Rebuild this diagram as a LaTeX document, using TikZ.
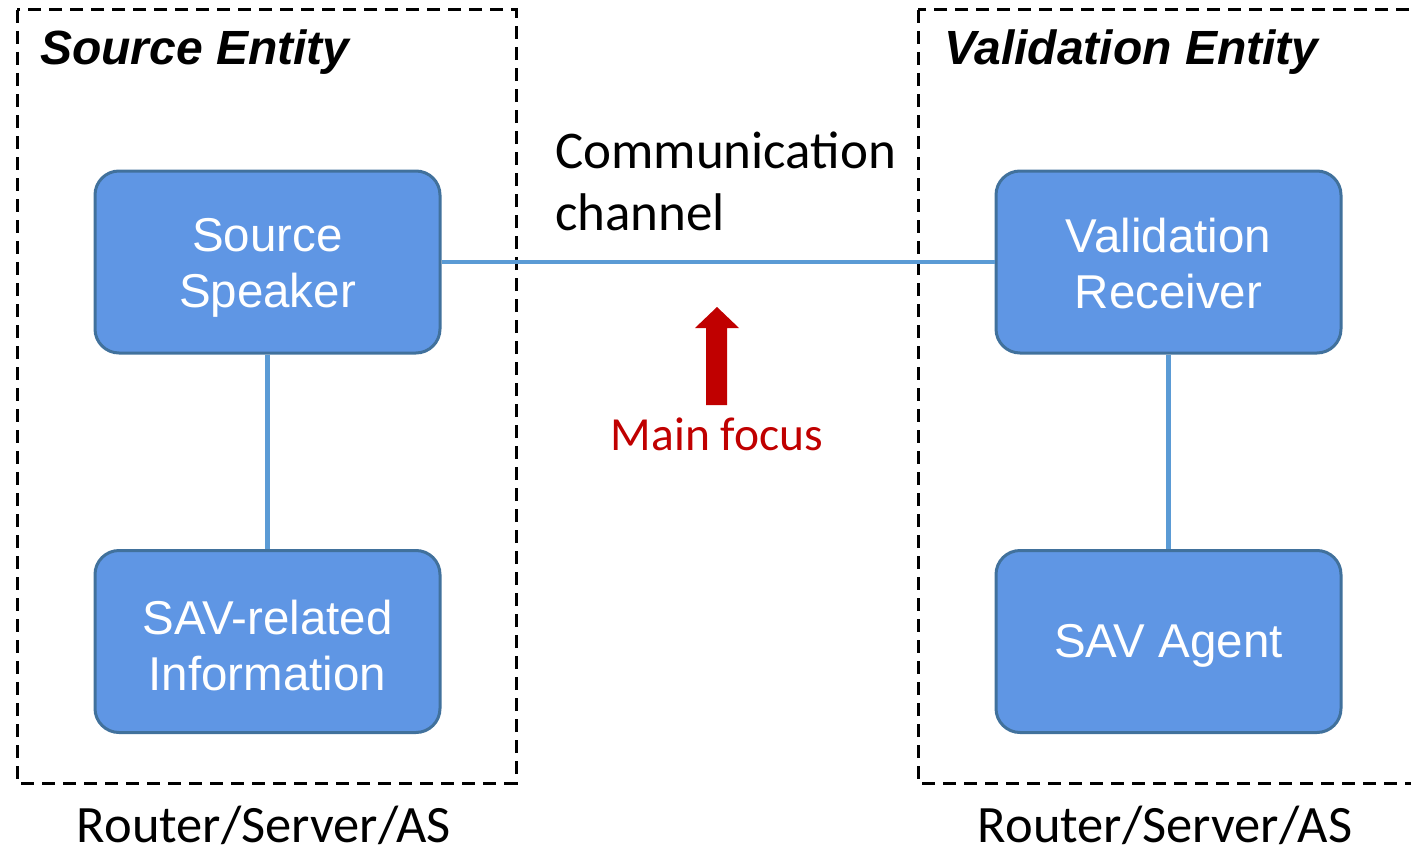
\documentclass[tikz,border=0pt]{standalone}
\usepackage{fontspec}
\setmainfont{Carlito}
\newfontfamily\arialf{Liberation Sans}
\definecolor{boxfill}{HTML}{5F96E4}
\definecolor{boxedge}{HTML}{41719C}
\definecolor{linkc}{HTML}{5B9BD5}
\definecolor{focusred}{HTML}{C00000}
\tikzset{
  entity/.style={draw=black, line width=3pt, dash pattern=on 13pt off 8pt},
  blockbox/.style={draw=boxedge, fill=boxfill, line width=3pt, rounded corners=24pt,
    minimum width=345pt, minimum height=182pt, inner sep=0pt},
  blocktext/.style={align=center, inner sep=0pt, text=white,
    font=\arialf\fontsize{47.5}{56}\selectfont},
  link/.style={draw=linkc, line width=4.5pt},
  entitytitle/.style={anchor=base west, inner sep=0pt, font=\arialf\bfseries\itshape\fontsize{48}{56}\selectfont},
  devlabel/.style={anchor=base, inner sep=0pt, font=\fontsize{52.5}{62}\selectfont},
}
\begin{document}
\begin{tikzpicture}[x=1pt,y=-1pt]
\useasboundingbox (0,0) rectangle (1411,851);
\clip (0,0) rectangle (1411,851);
% entity frames
\draw[entity] (17,10) rectangle (516,783);
\draw[entity] (918,10) rectangle (1430,783);
\node[entitytitle] (setitle) at (40,65) {Source Entity};
\node[entitytitle] (vetitle) at (944,65) {Validation Entity};
% blocks
\node[blockbox] (speaker) at (267.5,262) {};
\node[blockbox] (info) at (267.5,641.5) {};
\node[blockbox] (receiver) at (1168.5,262) {};
\node[blockbox] (agent) at (1168.5,641.5) {};
\node[blocktext] (speakertext) at ([yshift=-6pt]speaker.center) {Source\\Speaker};
\node[blocktext] (infotext) at ([yshift=-4pt]info.center) {SAV-related\\Information};
\node[blocktext] (receivertext) at ([yshift=-2pt]receiver.center) {Validation\\Receiver};
\node[blocktext] (agenttext) at ([yshift=-4pt]agent.center) {SAV Agent};
% connectors
\draw[link] (speaker.east) -- (receiver.west);
\draw[link] (speaker.south) -- (info.north);
\draw[link] (receiver.south) -- (agent.north);
% channel label
\node[anchor=base west, inner sep=0pt, align=left, font=\fontsize{53}{62}\selectfont] (channel) at (555,230) {Communication\\channel};
% main focus arrow
\fill[focusred] (706,405) -- (706,328) -- (695,328) -- (717,307) -- (739,328) -- (727,328) -- (727,405) -- cycle;
\node[anchor=base, inner sep=0pt, text=focusred, font=\fontsize{47.5}{56}\selectfont] (focus) at (717,450) {Main focus};
% device labels
\node[devlabel] (devl) at (264,842) {Router/Server/AS};
\node[devlabel] (devr) at (1165,842) {Router/Server/AS};
\end{tikzpicture}
\end{document}
